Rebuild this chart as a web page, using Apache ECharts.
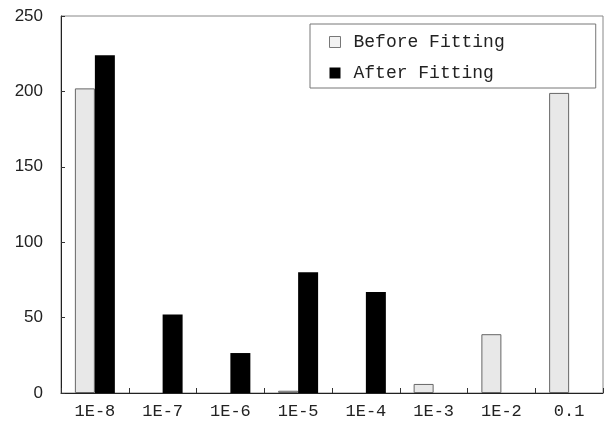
<!DOCTYPE html>
<html><head><meta charset="utf-8">
<script src="https://cdn.jsdelivr.net/npm/echarts@6/dist/echarts.min.js"></script>
<style>html,body{margin:0;padding:0;background:#fff}#c{width:606px;height:433px}</style>
</head><body><div id="c"></div>
<script>
const categories = ['1E-8','1E-7','1E-6','1E-5','1E-4','1E-3','1E-2','0.1'];
const beforeFitting = [202, null, null, 1.5, null, 6, 39, 199];
const afterFitting = [224, 52, 26.5, 80, 67, null, null, null];
const yTicks = {min: 0, max: 250, interval: 50};

const chart = echarts.init(document.getElementById('c'));
chart.setOption({
  animation: false,
  backgroundColor: '#fff',
  grid: {left: 61, right: 3, top: 16, bottom: 40, show: true, borderColor: '#888', borderWidth: 1},
  legend: {
    orient: 'vertical', left: 310, top: 24,
    itemWidth: 11, itemHeight: 11, itemGap: 13,
    padding: [9, 91, 6, 19],
    borderColor: '#777', borderWidth: 1, backgroundColor: '#fff',
    textStyle: {fontFamily: 'Liberation Mono', fontSize: 18, color: '#222', padding: [0,0,0,8]},
    data: [
      {name: 'Before Fitting', icon: 'rect', itemStyle: {color: '#f2f2f2', borderColor: '#777', borderWidth: 1}},
      {name: 'After Fitting', icon: 'rect', itemStyle: {color: '#000'}}
    ]
  },
  xAxis: {
    type: 'category', data: categories,
    axisLine: {lineStyle: {color: '#222', width: 1}},
    axisTick: {show: true, inside: true, length: 5, lineStyle: {color: '#333'}},
    axisLabel: {fontFamily: 'Liberation Mono', fontSize: 17, color: '#222', margin: 10}
  },
  yAxis: {
    type: 'value', min: yTicks.min, max: yTicks.max, interval: yTicks.interval,
    splitLine: {show: false},
    axisLine: {show: true, lineStyle: {color: '#222', width: 1}},
    axisTick: {show: true, inside: true, length: 4, lineStyle: {color: '#333'}},
    axisLabel: {fontFamily: 'Liberation Sans', fontSize: 17, color: '#222', margin: 18}
  },
  series: [
    {name: 'Before Fitting', type: 'bar', data: beforeFitting, barGap: '0%', barCategoryGap: '41%',
     itemStyle: {color: '#e8e8e8', borderColor: '#666', borderWidth: 1}},
    {name: 'After Fitting', type: 'bar', data: afterFitting,
     itemStyle: {color: '#000'}}
  ]
});
</script></body></html>
